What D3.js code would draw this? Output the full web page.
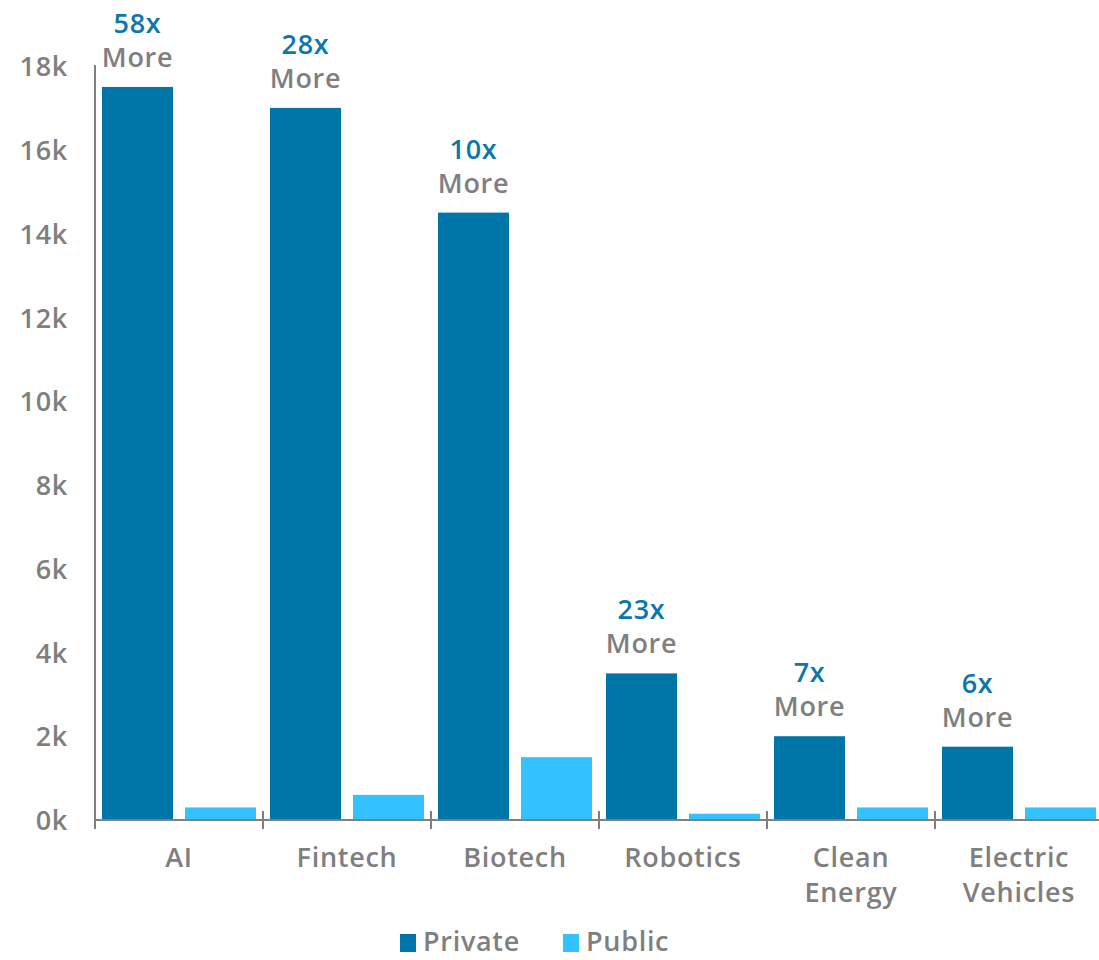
<!DOCTYPE html>
<html>
<head>
<meta charset="utf-8">
<script src="https://cdn.jsdelivr.net/npm/d3@7"></script>
<style>
  html, body { margin: 0; padding: 0; background: #ffffff; }
  svg { display: block; }
  text { font-family: "Open Sans", Lato, sans-serif; font-weight: 600; letter-spacing: 0.7px; }
</style>
</head>
<body>
<svg id="chart" width="1099" height="960"></svg>
<script>
// Sector names (line breaks marked with "|")
const categories = ["AI", "Fintech", "Biotech", "Robotics", "Clean|Energy", "Electric|Vehicles"];
const seriesNames = ["Private", "Public"];
// Company counts per sector
const privateValues = [17500, 17000, 14500, 3500, 2000, 1750];
const publicValues = [300, 600, 1500, 150, 300, 300];
// Multiplier callouts above private bars
const multiples = ["58x", "28x", "10x", "23x", "7x", "6x"];
const yTicks = [0, 2000, 4000, 6000, 8000, 10000, 12000, 14000, 16000, 18000];

const colors = { Private: "#0076a8", Public: "#33c2ff" };
const gray = "#7f7f7f";
const labelBlue = "#0a78aa";
const fontSize = "27px";

const svg = d3.select("#chart");

const x = d3.scaleBand().domain(categories).range([95, 1103]).paddingInner(0).paddingOuter(0);
const xs = d3.scaleBand().domain(seriesNames).range([0, x.bandwidth()])
  .paddingInner(0.1446).paddingOuter(0.0843);
const y = d3.scaleLinear().domain([0, 18000]).range([820, 66]);

const rows = categories.map((c, i) => ({
  cat: c, Private: privateValues[i], Public: publicValues[i], mult: multiples[i]
}));

// Y axis labels
const yAxis = d3.axisLeft(y).tickValues(yTicks).tickSize(0).tickPadding(27)
  .tickFormat(d => (d / 1000) + "k");
const gy = svg.append("g").attr("transform", "translate(95,0)").call(yAxis);
gy.select(".domain").remove();
gy.selectAll("text").attr("fill", gray).attr("dy", "0.36em").style("font-size", fontSize)
  .style("font-family", "'Open Sans', Lato, sans-serif").style("font-weight", 600);

// Bars
const groups = svg.append("g").selectAll("g").data(rows).join("g")
  .attr("transform", d => `translate(${x(d.cat)},0)`);
groups.selectAll("rect")
  .data(d => seriesNames.map(s => ({ s, v: d[s] })))
  .join("rect")
  .attr("x", d => xs(d.s))
  .attr("width", xs.bandwidth())
  .attr("y", d => y(d.v))
  .attr("height", d => y(0) - y(d.v))
  .attr("fill", d => colors[d.s]);

// Axis lines
svg.append("line").attr("x1", 95).attr("x2", 95).attr("y1", 65).attr("y2", 829)
  .attr("stroke", gray).attr("stroke-width", 2);
svg.append("line").attr("x1", 94).attr("x2", 1099).attr("y1", y(0)).attr("y2", y(0))
  .attr("stroke", gray).attr("stroke-width", 2);
// Category separators
svg.append("g").selectAll("line").data(categories.slice(1)).join("line")
  .attr("x1", d => x(d)).attr("x2", d => x(d))
  .attr("y1", y(0) - 9).attr("y2", y(0) + 9)
  .attr("stroke", gray).attr("stroke-width", 2);

// Category labels
const catLabels = svg.append("g").selectAll("text").data(categories).join("text")
  .attr("x", d => x(d) + x.bandwidth() / 2)
  .attr("y", 867)
  .attr("text-anchor", "middle")
  .attr("fill", gray)
  .style("font-size", fontSize);
catLabels.selectAll("tspan").data(d => d.split("|")).join("tspan")
  .attr("x", function () { return d3.select(this.parentNode).attr("x"); })
  .attr("dy", (d, i) => i === 0 ? 0 : 35)
  .text(d => d);

// Multiplier callouts
const callouts = svg.append("g").selectAll("g").data(rows).join("g")
  .attr("transform", d => `translate(${x(d.cat) + xs("Private") + xs.bandwidth() / 2},${y(d.Private)})`);
callouts.append("text").attr("y", -54).attr("text-anchor", "middle")
  .attr("fill", labelBlue).style("font-size", fontSize).text(d => d.mult);
callouts.append("text").attr("y", -20).attr("text-anchor", "middle")
  .attr("fill", gray).style("font-size", fontSize).text("More");

// Legend
const legendItems = [{ s: "Private", x: 400 }, { s: "Public", x: 563 }];
const lg = svg.append("g").selectAll("g").data(legendItems).join("g")
  .attr("transform", d => `translate(${d.x},0)`);
lg.append("rect").attr("x", 0).attr("y", 934).attr("width", 16).attr("height", 18)
  .attr("fill", d => colors[d.s]);
lg.append("text").attr("x", 23).attr("y", 951).attr("fill", gray)
  .style("font-size", fontSize).text(d => d.s);
</script>
</body>
</html>
